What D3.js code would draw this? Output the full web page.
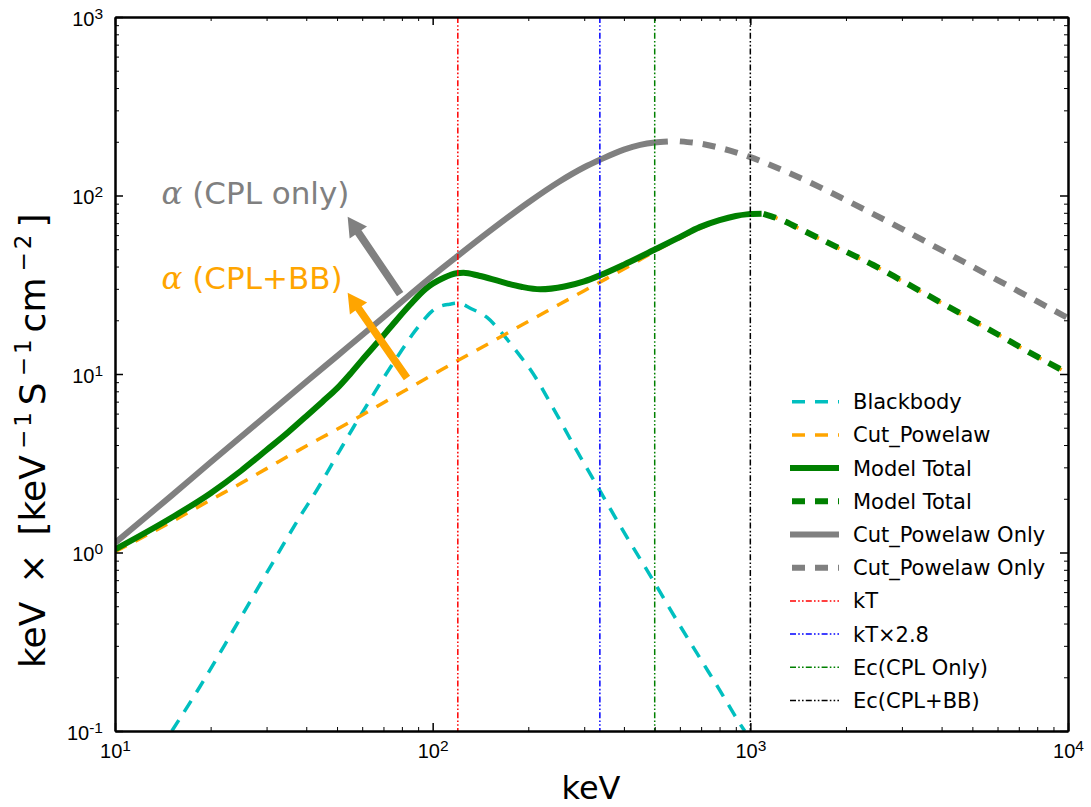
<!DOCTYPE html>
<html>
<head>
<meta charset="utf-8">
<script src="https://cdn.jsdelivr.net/npm/d3@7"></script>
<style>
body { margin: 0; background: #fff; }
svg { display: block; font-family: "DejaVu Sans", sans-serif; }
</style>
</head>
<body>
<div id="chart"></div>
<script>
const width = 1091;
const height = 807;

// ------------------
// DATA
// ------------------

// Blackbody
const bbE = [15.1, 18.5, 23.6, 31.5, 38.2, 43.2, 51.1, 56.2, 63.5, 71.6, 80.8, 86, 92.5, 99, 106, 113, 119, 125, 130, 148, 165, 178, 190, 203, 240, 280, 335, 400, 494, 600, 711, 800, 927, 960];
const bbV = [0.1, 0.177, 0.368, 0.888, 1.587, 2.24, 3.75, 5.0, 7.15, 10.1, 14.0, 16.5, 19.5, 22.3, 24.0, 24.6, 24.9, 24.5, 23.6, 20.8, 17.0, 14.4, 12.4, 10.6, 6.4, 3.9, 2.24, 1.3, 0.70, 0.39, 0.239, 0.17, 0.110, 0.1];

// Cut_Powelaw (CPL+BB fit)
const cplE = [10, 15, 20, 25, 30, 40, 50, 60, 70, 80, 100, 120, 150, 200, 250, 300, 350, 430, 500, 600, 700, 800, 900, 1000, 1100, 1240, 1500, 2000, 2440, 3000, 4000, 4570, 6000, 8000, 10000];
const cplV = [1.01, 1.48, 1.97, 2.45, 2.95, 3.95, 4.9, 5.9, 6.9, 7.9, 9.9, 11.9, 14.8, 19.7, 24.5, 29.3, 34, 41.7, 48.6, 57.5, 65.8, 72.4, 76.6, 78.4, 78.8, 73.5, 62.3, 48.4, 40.7, 33.2, 25, 21.8, 16.7, 12.5, 10.1];

// Model Total (solid part, then dashed part)
const totalE = [10, 15, 20, 25, 30, 35, 40, 45, 50, 55, 60, 67, 75, 85, 95, 108, 119, 125, 140, 163, 190, 218, 260, 300, 335, 400, 497, 600, 693, 800, 900, 973, 1000, 1085];
const totalV = [1.04, 1.56, 2.15, 2.88, 3.75, 4.7, 5.8, 7.0, 8.3, 10.0, 12.0, 15.0, 19.0, 24.5, 30.0, 34.5, 36.7, 36.9, 35.5, 33.0, 30.8, 29.8, 30.9, 33.0, 35.6, 41.0, 49.5, 58.5, 66.5, 72.8, 76.8, 78.4, 78.7, 79];
const totalDashE = [1100, 1239, 1500, 2000, 2438, 3000, 4000, 4571, 6000, 8000, 10000];
const totalDashV = [79, 73.6, 62.4, 48.5, 40.8, 33.3, 25.0, 21.9, 16.7, 12.5, 10.1];

// Cut_Powelaw Only (solid part, then dashed part)
const cplOnlyE = [10, 15, 20, 30, 40, 50, 70, 100, 120, 150, 200, 250, 300, 335, 400, 450, 500, 550];
const cplOnlyV = [1.13, 2.07, 3.2, 5.87, 9.04, 12.6, 20.8, 35.5, 45.9, 62.5, 91.4, 119.4, 143.9, 158, 180.7, 192, 198, 200.5];
const cplOnlyDashE = [600, 700, 800, 905, 1000, 1270, 1500, 2000, 2440, 3000, 4000, 4800, 6000, 8000, 10000];
const cplOnlyDashV = [201, 195, 185, 174, 164, 138, 121, 94.2, 78.7, 65, 49.4, 41.6, 33.6, 25.5, 20.6];

// vertical markers: kT, kT x 2.8, Ec(CPL only), Ec(CPL+BB)
const vLineE = [120, 336, 500, 1000];

// annotation arrows [tailE, tailV, tipE, tipV]
const arrowCplOnly = [79, 28, 54, 76];
const arrowCplBB = [83, 9.5, 54, 28.5];
const labelPos = [[14, 90], [14, 30]];

const legendLabels = ["Blackbody", "Cut_Powelaw", "Model Total", "Model Total", "Cut_Powelaw Only",
    "Cut_Powelaw Only", "kT", "kT\u00d72.8", "Ec(CPL Only)", "Ec(CPL+BB)"];

const xMajor = [10, 100, 1000, 10000];
const yMajor = [0.1, 1, 10, 100, 1000];

// ------------------
// SVG
// ------------------

const svg = d3.select("#chart")
    .append("svg")
    .attr("width", width)
    .attr("height", height);

const x = d3.scaleLog().domain([10, 1e4]).range([115, 1068]);
const y = d3.scaleLog().domain([0.1, 1000]).range([731, 17]);

const isMajor = v => Math.abs(Math.log10(v) - Math.round(Math.log10(v))) < 1e-6;
const xMinor = x.ticks().filter(v => !isMajor(v));
const yMinor = y.ticks().filter(v => !isMajor(v));

svg.append("clipPath").attr("id", "plot-clip")
    .append("rect")
    .attr("x", 115).attr("y", 17)
    .attr("width", 953).attr("height", 714);

const COL = {
    cyan: "#00bfbf", orange: "#ffa500", green: "#008000", gray: "#808080"
};
const DASH = "13,10";
const DASHDOTDOT = "6,2.2,1.6,2.2,1.6,2.2";

// ------------------
// CURVES
// ------------------

const line = d3.line()
    .x(d => x(d[0]))
    .y(d => y(d[1]))
    .curve(d3.curveMonotoneX);

const plot = svg.append("g").attr("clip-path", "url(#plot-clip)");

function curve(E, V, color, w, dash) {
    plot.append("path")
        .datum(E.map((e, i) => [e, V[i]]))
        .attr("d", line)
        .attr("fill", "none")
        .attr("stroke", color)
        .attr("stroke-width", w)
        .attr("stroke-dasharray", dash || null);
}

curve(bbE, bbV, COL.cyan, 3.5, DASH);
curve(cplE, cplV, COL.orange, 3.5, DASH);
curve(totalE, totalV, COL.green, 6);
curve(totalDashE, totalDashV, COL.green, 6, DASH);
curve(cplOnlyE, cplOnlyV, COL.gray, 6);
curve(cplOnlyDashE, cplOnlyDashV, COL.gray, 6, DASH);

const vColors = ["red", "blue", "green", "black"];
vLineE.forEach((e, i) => {
    plot.append("line")
        .attr("x1", x(e)).attr("x2", x(e))
        .attr("y1", y(1000)).attr("y2", y(0.1))
        .attr("stroke", vColors[i])
        .attr("stroke-width", 1.5)
        .attr("stroke-dasharray", DASHDOTDOT);
});

// ------------------
// ARROWS + LABELS
// ------------------

function arrow(a, color) {
    const x0 = x(a[0]), y0 = y(a[1]), x1 = x(a[2]), y1 = y(a[3]);
    const dx = x1 - x0, dy = y1 - y0, L = Math.hypot(dx, dy);
    const ux = dx / L, uy = dy / L, nx = -uy, ny = ux;
    const w = 3.8, hw = 10.5, hl = 19;
    const bx = x1 - ux * hl, by = y1 - uy * hl;
    const pts = [
        [x0 + nx * w, y0 + ny * w], [bx + nx * w, by + ny * w], [bx + nx * hw, by + ny * hw],
        [x1, y1],
        [bx - nx * hw, by - ny * hw], [bx - nx * w, by - ny * w], [x0 - nx * w, y0 - ny * w]
    ];
    svg.append("polygon")
        .attr("points", pts.map(p => p.join(",")).join(" "))
        .attr("fill", color);
}
arrow(arrowCplOnly, COL.gray);
arrow(arrowCplBB, COL.orange);

function alphaLabel(pos, txt, color) {
    const t = svg.append("text")
        .attr("x", x(pos[0])).attr("y", y(pos[1]))
        .attr("fill", color)
        .style("font-size", "31px");
    t.append("tspan").style("font-family", "'DejaVu Serif', serif").style("font-style", "italic").text("\u03b1");
    t.append("tspan").text(" " + txt);
}
alphaLabel(labelPos[0], "(CPL only)", COL.gray);
alphaLabel(labelPos[1], "(CPL+BB)", COL.orange);

// ------------------
// AXES
// ------------------

function axisGroup(axis, tr) {
    const g = svg.append("g").attr("transform", tr).call(axis);
    g.select(".domain").attr("stroke-width", 2);
    return g;
}

const sup = (t, exp) => {
    t.text("10");
    t.append("tspan").attr("dy", -7).style("font-size", "15.5px").text(exp);
};

// bottom
const gxb = axisGroup(d3.axisBottom(x).tickValues(xMajor).tickSize(-8).tickSizeOuter(0)
    .tickFormat(d => d), "translate(0,731)");
gxb.selectAll(".tick line").attr("stroke-width", 1.5);
gxb.selectAll(".tick text")
    .attr("dy", null).attr("y", 27)
    .style("font-size", "20px").attr("fill", "#000")
    .each(function (d) { sup(d3.select(this), Math.round(Math.log10(d))); });
axisGroup(d3.axisBottom(x).tickValues(xMinor).tickSize(-4).tickSizeOuter(0).tickFormat(""), "translate(0,731)");

// top
const gxt = axisGroup(d3.axisTop(x).tickValues(xMajor).tickSize(-8).tickSizeOuter(0).tickFormat(""), "translate(0,17)");
gxt.selectAll(".tick line").attr("stroke-width", 1.5);
axisGroup(d3.axisTop(x).tickValues(xMinor).tickSize(-4).tickSizeOuter(0).tickFormat(""), "translate(0,17)");

// left
const gyl = axisGroup(d3.axisLeft(y).tickValues(yMajor).tickSize(-8).tickSizeOuter(0)
    .tickFormat(d => d), "translate(115,0)");
gyl.selectAll(".tick line").attr("stroke-width", 1.5);
gyl.selectAll(".tick text")
    .attr("dy", null).attr("x", -12).attr("y", 8)
    .style("font-size", "20px").attr("fill", "#000")
    .each(function (d) {
        const e = Math.round(Math.log10(d));
        sup(d3.select(this), e < 0 ? "-" + (-e) : e);
    });
axisGroup(d3.axisLeft(y).tickValues(yMinor).tickSize(-4).tickSizeOuter(0).tickFormat(""), "translate(115,0)");

// right
const gyr = axisGroup(d3.axisRight(y).tickValues(yMajor).tickSize(-8).tickSizeOuter(0).tickFormat(""), "translate(1068,0)");
gyr.selectAll(".tick line").attr("stroke-width", 1.5);
axisGroup(d3.axisRight(y).tickValues(yMinor).tickSize(-4).tickSizeOuter(0).tickFormat(""), "translate(1068,0)");

svg.selectAll(".domain").attr("stroke", "#000");

// axis titles
svg.append("text")
    .attr("x", 591).attr("y", 799)
    .attr("text-anchor", "middle")
    .style("font-size", "32px")
    .text("keV");

const yl = svg.append("text")
    .attr("transform", "translate(45,668) rotate(-90)")
    .attr("text-anchor", "start")
    .style("font-size", "36px");
yl.append("tspan").text("keV\u2002\u00d7\u2002[keV");
function ySup(txt) {
    yl.append("tspan").attr("dx", 6).attr("dy", -14).style("font-size", "23px").text("\u2212");
    yl.append("tspan").attr("dx", 3).style("font-size", "23px").text(txt);
}
ySup("1");
yl.append("tspan").attr("dx", 7).attr("dy", 14).text("S");
ySup("1");
yl.append("tspan").attr("dx", 7).attr("dy", 14).text("cm");
ySup("2");
yl.append("tspan").attr("dx", 7).attr("dy", 14).text("]");

// ------------------
// LEGEND
// ------------------

const legendStyle = [
    { c: COL.cyan, w: 3.5, d: DASH },
    { c: COL.orange, w: 3.5, d: DASH },
    { c: COL.green, w: 6, d: null },
    { c: COL.green, w: 6, d: DASH },
    { c: COL.gray, w: 6, d: null },
    { c: COL.gray, w: 6, d: DASH },
    { c: "red", w: 1.5, d: DASHDOTDOT },
    { c: "blue", w: 1.5, d: DASHDOTDOT },
    { c: "green", w: 1.5, d: DASHDOTDOT },
    { c: "black", w: 1.5, d: DASHDOTDOT }
];

const leg = svg.append("g");
legendLabels.forEach((lab, i) => {
    const cy = 401.7 + i * 33.2;
    const s = legendStyle[i];
    leg.append("line")
        .attr("x1", s.d === DASH ? 792 : 790).attr("x2", 839)
        .attr("y1", cy).attr("y2", cy)
        .attr("stroke", s.c)
        .attr("stroke-width", s.w)
        .attr("stroke-dasharray", s.d);
    leg.append("text")
        .attr("x", 853).attr("y", cy + 7.5)
        .style("font-size", "21px")
        .text(lab);
});
</script>
</body>
</html>
